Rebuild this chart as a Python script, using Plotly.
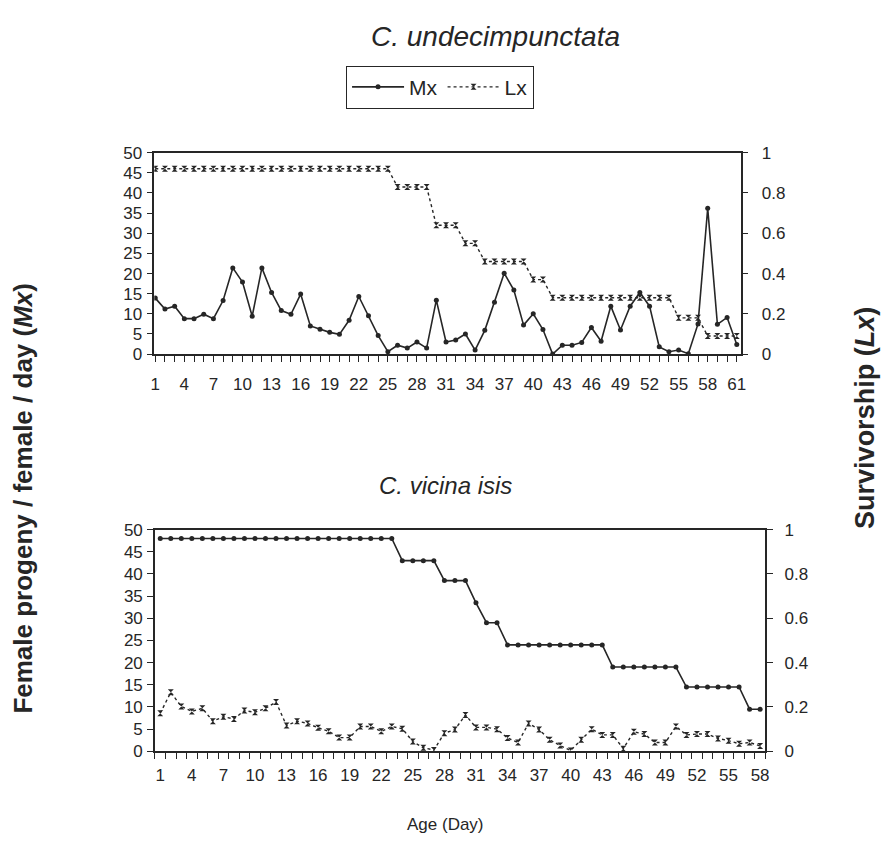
import plotly.graph_objects as go

# ---------------- data ----------------
days_top = list(range(1, 62))
mx_top = [13.9, 11.2, 11.9, 8.8, 8.8, 9.9, 8.8, 13.3, 21.4, 17.9,
          9.4, 21.4, 15.3, 10.8, 9.9, 14.9, 7.0, 6.2, 5.4, 4.9,
          8.4, 14.3, 9.5, 4.6, 0.6, 2.2, 1.5, 3.0, 1.5, 13.4,
          3.0, 3.5, 5.0, 1.0, 5.9, 12.9, 20.1, 15.9, 7.2, 10.0,
          6.1, 0.0, 2.2, 2.2, 2.9, 6.6, 3.2, 11.9, 6.0, 11.9,
          15.3, 11.9, 1.8, 0.6, 1.0, 0.1, 7.5, 36.2, 7.4, 9.1,
          2.4]
lx_top = [0.92, 0.92, 0.92, 0.92, 0.92, 0.92, 0.92, 0.92, 0.92, 0.92,
          0.92, 0.92, 0.92, 0.92, 0.92, 0.92, 0.92, 0.92, 0.92, 0.92,
          0.92, 0.92, 0.92, 0.92, 0.92, 0.83, 0.83, 0.83, 0.83, 0.64,
          0.64, 0.64, 0.55, 0.55, 0.46, 0.46, 0.46, 0.46, 0.46, 0.37,
          0.37, 0.28, 0.28, 0.28, 0.28, 0.28, 0.28, 0.28, 0.28, 0.28,
          0.28, 0.28, 0.28, 0.28, 0.18, 0.18, 0.18, 0.09, 0.09, 0.09,
          0.09]

days_bot = list(range(1, 59))
mx_bot = [8.6, 13.3, 10.1, 9.0, 9.7, 6.8, 7.8, 7.3, 9.2, 8.8,
          9.7, 11.1, 5.8, 6.8, 6.3, 5.3, 4.5, 3.1, 3.1, 5.6,
          5.6, 4.5, 5.6, 5.1, 2.2, 0.8, 0.3, 4.1, 4.9, 8.2,
          5.4, 5.4, 5.0, 3.0, 2.0, 6.3, 4.9, 2.6, 1.3, 0.2,
          2.6, 5.0, 3.7, 3.7, 0.6, 4.4, 3.9, 2.0, 2.0, 5.6,
          3.7, 3.9, 3.9, 2.9, 2.4, 1.7, 2.0, 1.2]
lx_bot = [0.96, 0.96, 0.96, 0.96, 0.96, 0.96, 0.96, 0.96, 0.96, 0.96,
          0.96, 0.96, 0.96, 0.96, 0.96, 0.96, 0.96, 0.96, 0.96, 0.96,
          0.96, 0.96, 0.96, 0.86, 0.86, 0.86, 0.86, 0.77, 0.77, 0.77,
          0.67, 0.58, 0.58, 0.48, 0.48, 0.48, 0.48, 0.48, 0.48, 0.48,
          0.48, 0.48, 0.48, 0.38, 0.38, 0.38, 0.38, 0.38, 0.38, 0.38,
          0.29, 0.29, 0.29, 0.29, 0.29, 0.29, 0.19, 0.19]

top_ticks = list(range(1, 62, 3))
bot_ticks = list(range(1, 59, 3))
left_ticks = list(range(0, 51, 5))
right_ticks = [0, 0.2, 0.4, 0.6, 0.8, 1]
right_ticktext = ["0", "0.2", "0.4", "0.6", "0.8", "1"]

title_top = "C. undecimpunctata"
title_bot = "C. vicina isis"

# ---------------- style ----------------
INK = "#262626"
FONT = "Liberation Sans, Arial, sans-serif"
W, H = 893, 850


def px(x):
    return x / W


def py(y):
    return 1 - y / H


fig = go.Figure()

# top chart
fig.add_trace(go.Scatter(x=days_top, y=mx_top, name="Mx", mode="lines+markers",
                         line=dict(color=INK, width=1.6),
                         marker=dict(symbol="circle", size=5, color=INK),
                         xaxis="x", yaxis="y"))
fig.add_trace(go.Scatter(x=days_top, y=lx_top, name="Lx", mode="lines+markers",
                         line=dict(color=INK, width=1.4, dash="dot"),
                         marker=dict(symbol="hourglass", size=6, color=INK),
                         xaxis="x", yaxis="y2"))
# bottom chart
fig.add_trace(go.Scatter(x=days_bot, y=mx_bot, name="Mx", mode="lines+markers",
                         showlegend=False,
                         line=dict(color=INK, width=1.4, dash="dot"),
                         marker=dict(symbol="hourglass", size=6, color=INK),
                         xaxis="x3", yaxis="y3"))
fig.add_trace(go.Scatter(x=days_bot, y=lx_bot, name="Lx", mode="lines+markers",
                         showlegend=False,
                         line=dict(color=INK, width=1.6),
                         marker=dict(symbol="circle", size=5, color=INK),
                         xaxis="x3", yaxis="y4"))

tickfont = dict(family=FONT, size=17, color=INK)
axline = dict(showline=True, linecolor=INK, linewidth=1.5, showgrid=False,
              zeroline=False, tickfont=tickfont, tickcolor=INK)

fig.update_layout(
    width=W, height=H,
    margin=dict(l=0, r=0, t=0, b=0),
    paper_bgcolor="white", plot_bgcolor="white",
    font=dict(family=FONT, color=INK),
    showlegend=True,
    legend=dict(orientation="h", x=px(441), xanchor="center", y=py(58), yanchor="top",
                bordercolor=INK, borderwidth=1, bgcolor="white",
                font=dict(family=FONT, size=21, color=INK),
                itemwidth=52, tracegroupgap=0),
    xaxis=dict(domain=[px(152), px(745)], range=[0.9, 61.4], anchor="y",
               tickmode="array", tickvals=top_ticks, ticks="outside", ticklen=6,
               mirror=True, ticklabelstandoff=8,
               minor=dict(dtick=1, tick0=1, ticks="outside", ticklen=6, tickcolor=INK),
               **axline),
    yaxis=dict(domain=[py(353), py(147)], range=[0, 50], anchor="x",
               tickmode="array", tickvals=left_ticks, ticks="outside", ticklen=6,
               ticklabelstandoff=1, **axline),
    yaxis2=dict(overlaying="y", side="right", anchor="x", range=[0, 1],
                tickmode="array", tickvals=right_ticks, ticktext=right_ticktext,
                ticks="outside", ticklen=6, ticklabelstandoff=10, **axline),
    xaxis3=dict(domain=[px(152.7), px(770)], range=[0.5, 58.5], anchor="y3",
                tickmode="array", tickvals=bot_ticks, ticks="", mirror=True,
                ticklabelstandoff=8,
                minor=dict(dtick=1, tick0=0.5, ticks="outside", ticklen=6, tickcolor=INK),
                **axline),
    yaxis3=dict(domain=[py(759.3), py(532.5)], range=[0, 50], anchor="x3",
                tickmode="array", tickvals=left_ticks, ticks="outside", ticklen=6,
                ticklabelstandoff=1, **axline),
    yaxis4=dict(overlaying="y3", side="right", anchor="x3", range=[0, 1],
                tickmode="array", tickvals=right_ticks, ticktext=right_ticktext,
                ticks="outside", ticklen=6, ticklabelstandoff=8, **axline),
)

ann = [
    dict(text="<i>" + title_top + "</i>", x=px(497), y=py(28), size=28),
    dict(text="<i>" + title_bot + "</i>", x=px(447), y=py(487), size=24),
    dict(text="Age (Day)", x=px(447), y=py(834), size=17),
]
for a in ann:
    fig.add_annotation(text=a["text"], x=a["x"], y=a["y"], xref="paper", yref="paper",
                       xanchor="center", yanchor="middle", showarrow=False,
                       font=dict(family=FONT, size=a["size"], color=INK))

fig.add_annotation(text="<b>Female progeny / female / day (<i>Mx</i>)</b>",
                   x=px(19), y=py(500), xref="paper", yref="paper",
                   xanchor="center", yanchor="middle", textangle=-90, showarrow=False,
                   font=dict(family=FONT, size=26, color=INK))
fig.add_annotation(text="<b>Survivorship (<i>Lx</i>)</b>",
                   x=px(870), y=py(418), xref="paper", yref="paper",
                   xanchor="center", yanchor="middle", textangle=-90, showarrow=False,
                   font=dict(family=FONT, size=27, color=INK))

fig.write_html("out.html")
